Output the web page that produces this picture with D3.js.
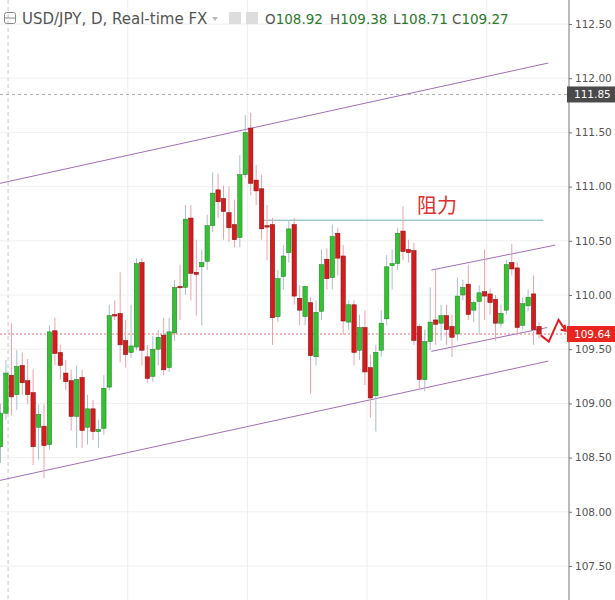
<!DOCTYPE html>
<html>
<head>
<meta charset="utf-8">
<script src="https://cdn.jsdelivr.net/npm/d3@7"></script>
<style>
  body { margin: 0; background: #fff; }
  svg { display: block; font-family: "DejaVu Sans", sans-serif; }
</style>
</head>
<body>
<svg id="chart" width="615" height="600"></svg>
<script>
// daily candles, open / high / low / close
var opens  = [108.60,108.91,109.26,109.08,109.35,109.21,109.10,108.78,108.79,108.62,
              109.67,109.47,109.28,109.21,108.88,109.24,108.78,108.95,108.74,108.77,
              109.15,109.82,109.83,109.58,109.47,109.52,110.30,109.43,109.25,109.50,
              109.63,109.33,109.65,110.08,110.07,110.71,110.21,110.26,110.31,110.64,
              110.97,110.89,110.76,110.65,110.53,111.11,111.54,111.06,110.98,110.64,
              110.65,109.80,110.17,110.39,110.65,109.97,109.80,109.93,109.43,109.85,
              110.33,110.16,110.57,110.36,109.75,109.91,109.49,109.70,109.33,109.07,
              109.49,109.78,110.27,110.29,110.59,110.42,110.41,109.71,109.22,109.57,
              109.77,109.74,109.81,109.71,109.64,110.00,110.10,109.86,109.94,110.03,
              110.01,109.96,109.74,109.86,110.30,110.25,109.72,109.90,110.01,109.71];
var highs  = [109.00,109.40,109.74,109.49,109.47,109.41,109.31,108.99,108.99,109.72,
              109.79,109.54,109.40,109.31,109.35,109.31,109.08,109.03,108.85,109.26,
              109.91,109.95,110.21,109.77,109.91,110.34,110.34,109.54,109.62,109.68,
              109.79,109.79,110.14,110.28,110.83,110.83,110.51,110.42,110.74,111.13,
              111.12,111.01,111.00,110.88,111.29,111.66,111.68,111.20,111.11,110.83,
              110.71,110.23,110.46,110.69,110.71,110.09,109.95,109.98,109.95,110.42,
              110.43,110.65,110.62,110.46,109.95,109.95,109.82,109.86,109.45,109.54,
              109.86,110.37,110.42,110.62,110.82,110.51,110.48,109.73,109.68,110.07,
              110.23,109.91,109.91,109.82,110.16,110.14,110.28,109.95,110.09,110.42,
              110.06,110.00,109.91,110.32,110.47,110.30,109.98,110.05,110.18,109.75];
var lows   = [108.45,108.85,108.89,108.94,109.08,108.99,108.43,108.48,108.31,108.57,
              109.35,109.22,109.12,108.75,108.59,108.59,108.62,108.66,108.59,108.71,
              109.12,109.77,109.38,109.33,109.42,109.49,109.35,109.19,109.20,109.35,
              109.26,109.29,109.58,109.77,110.00,109.95,109.81,109.72,110.23,110.58,
              110.71,110.51,110.49,110.44,110.44,111.08,110.92,110.83,110.51,110.32,
              109.54,109.75,110.05,110.30,109.91,109.72,109.72,109.09,109.35,109.77,
              110.05,110.05,110.18,109.63,109.68,109.35,109.40,109.17,108.87,108.74,
              109.43,109.72,110.05,110.23,110.32,110.30,109.54,109.12,109.11,109.49,
              109.54,109.58,109.54,109.43,109.58,109.95,109.77,109.75,109.63,109.77,
              109.82,109.58,109.70,109.82,110.18,109.63,109.68,109.85,109.54,109.60];
var closes = [108.91,109.28,109.06,109.34,109.19,109.08,108.60,108.90,108.61,109.66,
              109.46,109.35,109.20,108.88,109.22,108.75,108.95,108.74,108.76,109.14,
              109.81,109.81,109.54,109.45,109.53,110.29,109.49,109.23,109.50,109.61,
              109.31,109.66,110.07,110.07,110.70,110.20,110.19,110.30,110.64,110.94,
              110.86,110.77,110.62,110.51,111.11,111.50,111.03,110.96,110.61,110.63,
              109.79,110.15,110.36,110.61,109.99,109.86,110.08,109.44,109.84,110.28,
              110.15,110.54,110.34,109.76,109.91,109.47,109.70,109.29,109.05,109.47,
              109.74,110.26,110.29,110.57,110.40,110.39,109.58,109.22,109.57,109.75,
              109.73,109.81,109.68,109.61,109.99,110.07,109.82,109.93,110.02,109.99,
              109.93,109.74,109.83,110.28,110.24,109.70,109.92,109.98,109.68,109.64];

var priceTicks = [112.5, 112.0, 111.5, 111.0, 110.5, 110.0, 109.5, 109.0, 108.5, 108.0, 107.5];
var lastPrice = 109.64;
var markPrice = 111.85;
var resistance = 110.69;
// trend lines as [candle index, price] pairs
var upperChannel = [[-0.1, 111.03], [100.7, 112.14]];
var lowerChannel = [[-0.1, 108.29], [100.7, 109.39]];
var smallUpper   = [[79.2, 110.23], [102, 110.46]];
var smallLower   = [[79.2, 109.48], [100.5, 109.70]];
var resistLine   = [48.1, 99.8];
var header = {symbol: "USD/JPY, D, Real-time FX", O: "108.92", H: "109.38", L: "108.71", C: "109.27"};

var svg = d3.select("#chart");
var axisX = 569;

var x = d3.scaleLinear().domain([0, 99]).range([0.5, 539]);
var y = d3.scaleLinear().domain([112.5, 107.5]).range([24, 566]);

// grid
var grid = svg.append("g");
[0.2, 22.2, 44.2, 66.2, 88.2].forEach(function(i, k) {
    grid.append("line")
        .attr("x1", x(i) + 6.5).attr("x2", x(i) + 6.5)
        .attr("y1", 0).attr("y2", 600)
        .attr("stroke", k == 0 ? "#c8c8c8" : "#eeeeee")
        .attr("stroke-dasharray", k == 0 ? "4,3" : null);
});
priceTicks.forEach(function(p) {
    grid.append("line")
        .attr("x1", 0).attr("x2", axisX)
        .attr("y1", y(p)).attr("y2", y(p))
        .attr("stroke", "#f0f0f0");
});

// price lines
svg.append("line")
    .attr("x1", 0).attr("x2", axisX).attr("y1", y(markPrice)).attr("y2", y(markPrice))
    .attr("stroke", "#999").attr("stroke-dasharray", "3,3").attr("stroke-width", 0.8);
svg.append("line")
    .attr("x1", 0).attr("x2", axisX).attr("y1", y(lastPrice)).attr("y2", y(lastPrice))
    .attr("stroke", "#e05050").attr("stroke-dasharray", "2,2").attr("stroke-width", 0.8);

// trend lines
function trend(pts, color) {
    svg.append("line")
        .attr("x1", x(pts[0][0])).attr("y1", y(pts[0][1]))
        .attr("x2", x(pts[1][0])).attr("y2", y(pts[1][1]))
        .attr("stroke", color).attr("stroke-width", 1);
}
trend(upperChannel, "#a070b8");
trend(lowerChannel, "#a070b8");
trend(smallUpper, "#a070b8");
trend(smallLower, "#a070b8");
svg.append("line")
    .attr("x1", x(resistLine[0])).attr("x2", x(resistLine[1]))
    .attr("y1", y(resistance)).attr("y2", y(resistance))
    .attr("stroke", "#6fb0b0").attr("stroke-width", 1);
svg.append("text")
    .attr("x", 417).attr("y", 213)
    .attr("fill", "#e03030").attr("font-size", 20)
    .attr("font-family", "Noto Sans CJK SC")
    .text("阻力");

// candles
var candles = opens.map(function(o, i) {
    return {i: i, o: o, h: highs[i], l: lows[i], c: closes[i]};
});
var cg = svg.append("g");
candles.forEach(function(d) {
    var up = d.c >= d.o;
    var cx = x(d.i);
    cg.append("line")
        .attr("x1", cx).attr("x2", cx)
        .attr("y1", y(d.h)).attr("y2", y(d.l))
        .attr("stroke", up ? "#a8c0c8" : "#f0a0a8").attr("stroke-width", 1);
    var top = y(Math.max(d.o, d.c)), bot = y(Math.min(d.o, d.c));
    cg.append("rect")
        .attr("x", cx - 2.2).attr("width", 4.4)
        .attr("y", top).attr("height", Math.max(bot - top, 1.5))
        .attr("fill", up ? "#34c234" : "#d41c1c")
        .attr("stroke", up ? "#1f7a1f" : "#7a1010").attr("stroke-width", 0.5);
});

// red zigzag arrow
var zig = [[99.3, 109.63], [100.8, 109.57], [102.6, 109.77], [103.9, 109.67]];
svg.append("path")
    .attr("d", d3.line().x(function(p) { return x(p[0]); }).y(function(p) { return y(p[1]); })(zig))
    .attr("fill", "none").attr("stroke", "#e02020").attr("stroke-width", 2);
svg.append("path")
    .attr("d", "M" + (x(103.9) - 5) + "," + (y(109.67) - 1) + "L" + x(103.9) + "," + y(109.67) + "L" + (x(103.9) - 1) + "," + (y(109.67) - 6))
    .attr("fill", "none").attr("stroke", "#e02020").attr("stroke-width", 2);

// right axis
svg.append("rect").attr("x", axisX).attr("y", 0).attr("width", 46).attr("height", 600).attr("fill", "#fff");
svg.append("line").attr("x1", axisX).attr("x2", axisX).attr("y1", 0).attr("y2", 600).attr("stroke", "#777");
var axis = d3.axisRight(y).tickValues(priceTicks).tickFormat(d3.format(".2f")).tickSize(3).tickPadding(3);
var ag = svg.append("g").attr("transform", "translate(" + axisX + ",0)").call(axis);
ag.select(".domain").remove();
ag.selectAll("line").attr("stroke", "#777");
ag.selectAll("text").attr("fill", "#555").attr("font-size", 10.5).attr("font-family", "DejaVu Sans");

function priceTag(p, bg) {
    svg.append("rect").attr("x", axisX - 2).attr("y", y(p) - 8).attr("width", 48).attr("height", 16).attr("fill", bg);
    svg.append("text").attr("x", axisX + 5).attr("y", y(p) + 4)
        .attr("fill", "#fff").attr("font-size", 10.5).text(d3.format(".2f")(p));
}
priceTag(markPrice, "#4a4a4a");
priceTag(lastPrice, "#e8251f");

// header
var hd = svg.append("g");
hd.append("rect").attr("x", 4.5).attr("y", 12.5).attr("width", 11).attr("height", 11)
    .attr("fill", "none").attr("stroke", "#888").attr("rx", 2);
hd.append("line").attr("x1", 4.5).attr("x2", 15.5).attr("y1", 18).attr("y2", 18).attr("stroke", "#888");
hd.append("text").attr("x", 22).attr("y", 24).attr("fill", "#555").attr("font-size", 15).text(header.symbol);
hd.append("path").attr("d", "M212,17l6,0l-3,4z").attr("fill", "#bbb");
hd.append("rect").attr("x", 229).attr("y", 12).attr("width", 12).attr("height", 12).attr("fill", "#ddd");
hd.append("rect").attr("x", 246).attr("y", 12).attr("width", 12).attr("height", 12).attr("fill", "#ddd");
var ohlc = [["O", header.O, 265], ["H", header.H, 330], ["L", header.L, 393], ["C", header.C, 452]];
ohlc.forEach(function(v) {
    var t = hd.append("text").attr("x", v[2]).attr("y", 24).attr("font-size", 13.5);
    t.append("tspan").attr("fill", "#555").text(v[0]);
    t.append("tspan").attr("fill", "#2c7a2c").text(v[1]);
});
</script>
</body>
</html>
